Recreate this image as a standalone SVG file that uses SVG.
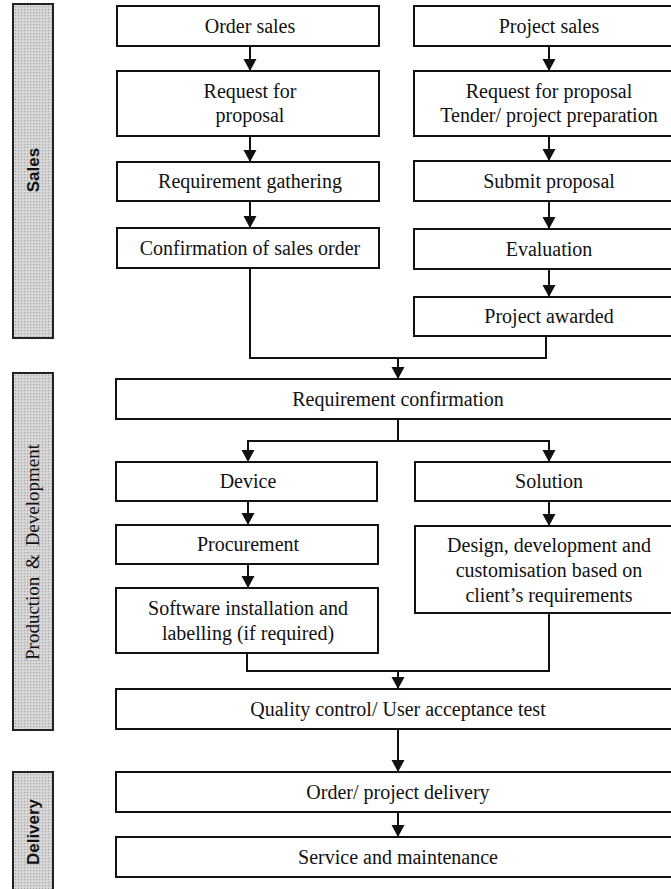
<svg xmlns="http://www.w3.org/2000/svg" width="671" height="889" viewBox="0 0 671 889">
<defs>
<style>
.box{fill:#fff;stroke:#111;stroke-width:2}
.bar{fill:url(#dots);stroke:#222;stroke-width:2}
.t{font-family:'Liberation Serif','Times New Roman','DejaVu Serif',serif;font-size:20px;fill:#111;text-anchor:middle}
.lane{font-family:'Liberation Sans',Arial,sans-serif;font-size:17px;font-weight:bold;fill:#111;text-anchor:middle}
.laneS{font-family:'Liberation Serif','Times New Roman','DejaVu Serif',serif;font-size:19px;fill:#111;text-anchor:middle;word-spacing:3px}
.c{fill:none;stroke:#111;stroke-width:2}
</style>
<pattern id="dots" width="3" height="3" patternUnits="userSpaceOnUse">
<rect width="3" height="3" fill="#d2d2d2"/>
<rect width="1" height="1" fill="#a8a8a8"/>
<rect x="2" y="2" width="1" height="1" fill="#e6e6e6"/>
</pattern>
<marker id="ah" markerUnits="userSpaceOnUse" markerWidth="14" markerHeight="14" refX="12" refY="6.5" orient="auto">
<path d="M0,0 L12,6.5 L0,13 Z" fill="#111"/>
</marker>
</defs>
<rect width="671" height="889" fill="#fff"/>

<g id="lane-sales"><rect class="bar" x="13" y="4" width="40" height="334"/><text class="lane" transform="translate(39,170) rotate(-90)">Sales</text></g>
<g id="lane-prod"><rect class="bar" x="13" y="373" width="40" height="357"/><text class="laneS" font-family="Liberation Serif, serif" transform="translate(39,552) rotate(-90)">Production &amp; Development</text></g>
<g id="lane-delivery"><rect class="bar" x="13" y="772" width="40" height="118"/><text class="lane" transform="translate(39,832) rotate(-90)">Delivery</text></g>

<g id="connectors">
<line class="c" x1="250" y1="46" x2="250" y2="71" marker-end="url(#ah)"/>
<line class="c" x1="250" y1="136" x2="250" y2="162" marker-end="url(#ah)"/>
<line class="c" x1="250" y1="201" x2="250" y2="228" marker-end="url(#ah)"/>
<line class="c" x1="549" y1="46" x2="549" y2="71" marker-end="url(#ah)"/>
<line class="c" x1="549" y1="136" x2="549" y2="161" marker-end="url(#ah)"/>
<line class="c" x1="549" y1="201" x2="549" y2="229" marker-end="url(#ah)"/>
<line class="c" x1="549" y1="269" x2="549" y2="297" marker-end="url(#ah)"/>
<polyline class="c" points="250,268 250,358 546,358 546,336"/>
<line class="c" x1="398" y1="358" x2="398" y2="379" marker-end="url(#ah)"/>
<line class="c" x1="398" y1="419" x2="398" y2="441"/>
<line class="c" x1="247" y1="441" x2="550" y2="441"/>
<line class="c" x1="248" y1="441" x2="248" y2="462" marker-end="url(#ah)"/>
<line class="c" x1="549" y1="441" x2="549" y2="462" marker-end="url(#ah)"/>
<line class="c" x1="248" y1="501" x2="248" y2="525" marker-end="url(#ah)"/>
<line class="c" x1="248" y1="564" x2="248" y2="588" marker-end="url(#ah)"/>
<line class="c" x1="549" y1="501" x2="549" y2="526" marker-end="url(#ah)"/>
<polyline class="c" points="247,653 247,671 549,671 549,613"/>
<line class="c" x1="398" y1="671" x2="398" y2="689" marker-end="url(#ah)"/>
<line class="c" x1="398" y1="729" x2="398" y2="772" marker-end="url(#ah)"/>
<line class="c" x1="398" y1="812" x2="398" y2="837" marker-end="url(#ah)"/>
</g>

<g font-family="Liberation Serif, serif">
<g id="n-order-sales"><rect class="box" x="117" y="6" width="262" height="40"/><text class="t" x="250" y="33">Order sales</text></g>
<g id="n-rfp-left"><rect class="box" x="117" y="71" width="262" height="65"/><text class="t" x="250" y="98">Request for</text><text class="t" x="250" y="122">proposal</text></g>
<g id="n-req-gathering"><rect class="box" x="117" y="162" width="262" height="39"/><text class="t" x="250" y="188">Requirement gathering</text></g>
<g id="n-confirm-order"><rect class="box" x="117" y="228" width="262" height="40"/><text class="t" x="250" y="255">Confirmation of sales order</text></g>

<g id="n-project-sales"><rect class="box" x="414" y="6" width="270" height="40"/><text class="t" x="549" y="33">Project sales</text></g>
<g id="n-rfp-right"><rect class="box" x="414" y="71" width="270" height="65"/><text class="t" x="549" y="98">Request for proposal</text><text class="t" x="549" y="122">Tender/ project preparation</text></g>
<g id="n-submit"><rect class="box" x="414" y="161" width="270" height="40"/><text class="t" x="549" y="188">Submit proposal</text></g>
<g id="n-evaluation"><rect class="box" x="414" y="229" width="270" height="40"/><text class="t" x="549" y="256">Evaluation</text></g>
<g id="n-awarded"><rect class="box" x="414" y="297" width="270" height="39"/><text class="t" x="549" y="323">Project awarded</text></g>

<g id="n-req-confirm"><rect class="box" x="116" y="379" width="570" height="40"/><text class="t" x="398" y="406">Requirement confirmation</text></g>

<g id="n-device"><rect class="box" x="116" y="462" width="261" height="39"/><text class="t" x="248" y="488">Device</text></g>
<g id="n-procurement"><rect class="box" x="116" y="525" width="262" height="39"/><text class="t" x="248" y="551">Procurement</text></g>
<g id="n-software"><rect class="box" x="116" y="588" width="262" height="65"/><text class="t" x="248" y="615">Software installation and</text><text class="t" x="248" y="640">labelling (if required)</text></g>

<g id="n-solution"><rect class="box" x="415" y="462" width="270" height="39"/><text class="t" x="549" y="488">Solution</text></g>
<g id="n-design"><rect class="box" x="415" y="526" width="270" height="87"/><text class="t" x="549" y="552">Design, development and</text><text class="t" x="549" y="577">customisation based on</text><text class="t" x="549" y="602">client’s requirements</text></g>

<g id="n-qc"><rect class="box" x="116" y="689" width="570" height="40"/><text class="t" x="398" y="716">Quality control/ User acceptance test</text></g>
<g id="n-delivery"><rect class="box" x="116" y="772" width="570" height="40"/><text class="t" x="398" y="799">Order/ project delivery</text></g>
<g id="n-service"><rect class="box" x="116" y="837" width="570" height="40"/><text class="t" x="398" y="864">Service and maintenance</text></g>
</g>
</svg>
